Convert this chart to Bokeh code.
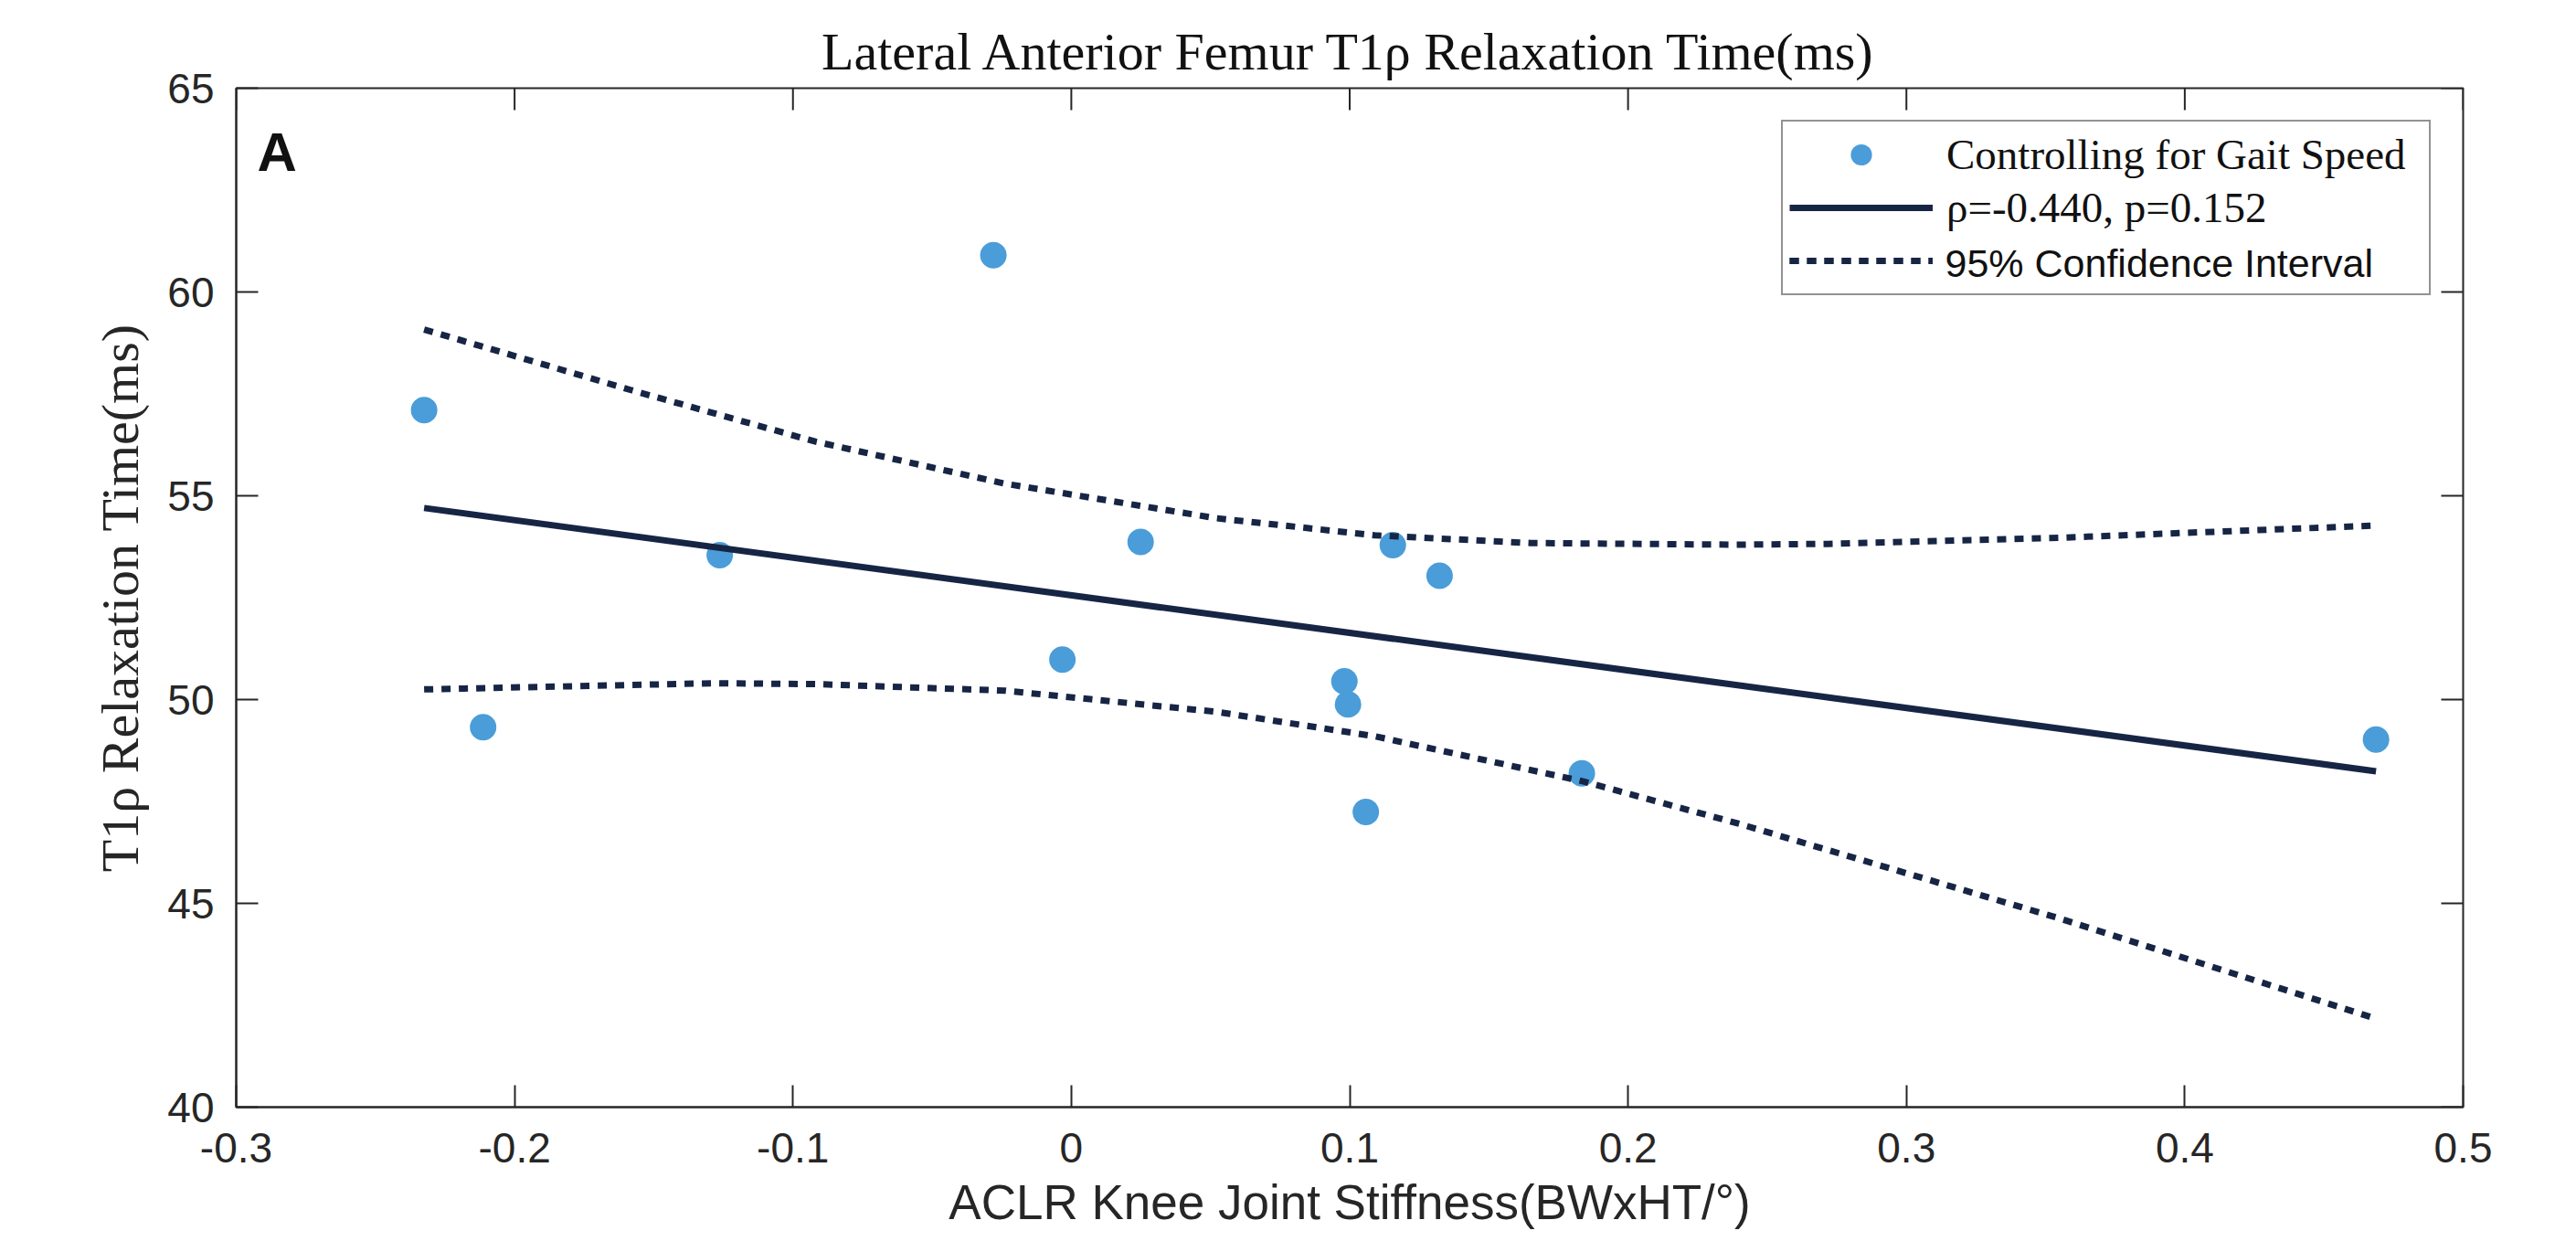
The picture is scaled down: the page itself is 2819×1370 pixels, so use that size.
import math
from bokeh.plotting import figure
from bokeh.models import (Range1d, FixedTicker, Legend, LegendItem,
                          Label, ColumnDataSource)
from bokeh.embed import file_html
from bokeh.resources import INLINE

# ---------------- data ----------------
stiffness = [-0.2325, -0.2113, -0.1263, -0.0280, -0.0032, 0.0249, 0.0981,
             0.0994, 0.1058, 0.1155, 0.1323, 0.1834, 0.4687]
t1rho = [57.10, 49.32, 53.54, 60.90, 50.98, 53.87, 50.45,
         49.88, 47.24, 53.79, 53.04, 48.19, 49.02]

fit_x = [-0.2325, 0.4687]
fit_y = [54.70, 48.24]

ci_upper_x = [-0.2325, -0.158, -0.092, -0.024, 0.052, 0.109, 0.165, 0.239, 0.272, 0.355, 0.4687]
ci_upper_y = [59.08, 57.59, 56.33, 55.30, 54.45, 54.03, 53.84, 53.80, 53.82, 53.97, 54.27]

ci_lower_x = [-0.2325, -0.129, -0.092, -0.024, 0.052, 0.109, 0.184, 0.240, 0.355, 0.4687]
ci_lower_y = [50.25, 50.40, 50.38, 50.22, 49.70, 49.10, 47.99, 46.95, 44.63, 42.17]

x_ticks = [-0.3, -0.2, -0.1, 0.0, 0.1, 0.2, 0.3, 0.4, 0.5]
x_tick_labels = ["-0.3", "-0.2", "-0.1", "0", "0.1", "0.2", "0.3", "0.4", "0.5"]
y_ticks = [40, 45, 50, 55, 60, 65]
y_tick_labels = ["40", "45", "50", "55", "60", "65"]

title_text = "Lateral Anterior Femur T1\u03c1 Relaxation Time(ms)"
x_label = "ACLR Knee Joint Stiffness(BWxHT/\u00b0)"
y_label = "T1\u03c1 Relaxation Time(ms)"
legend_labels = ["Controlling for Gait Speed", "\u03c1=-0.440, p=0.152", "95% Confidence Interval"]
panel_letter = "A"

X_MIN, X_MAX = x_ticks[0], x_ticks[-1]
Y_MIN, Y_MAX = y_ticks[0], y_ticks[-1]

# ---------------- style ----------------
SERIF = "Liberation Serif"
SANS = "Liberation Sans"
AXIS_COLOR = "#262626"
POINT_COLOR = "#4A9DD8"
LINE_COLOR = "#172545"
TICK_LEN = 24

W, H = 2816, 1366
LEFT, TOP = 258, 96
RIGHT = W - 2695
BOTTOM = H - 1211
FRAME_W = W - LEFT - RIGHT
FRAME_H = H - TOP - BOTTOM

p = figure(width=W, height=H, output_backend="svg", toolbar_location=None,
           x_range=Range1d(X_MIN, X_MAX), y_range=Range1d(Y_MIN, Y_MAX),
           min_border_left=LEFT, min_border_right=RIGHT,
           min_border_top=TOP, min_border_bottom=BOTTOM,
           x_axis_label=x_label, y_axis_label=y_label)
p.background_fill_color = "white"
p.border_fill_color = "white"
p.outline_line_color = AXIS_COLOR
p.outline_line_width = 2
p.xgrid.visible = False
p.ygrid.visible = False

p.title.text = title_text
p.title.text_font = SERIF
p.title.text_font_size = "58px"
p.title.text_font_style = "normal"
p.title.text_color = "#111111"
p.title.align = "center"
p.title.standoff = 15


def style_axis(ax, ticks, labels):
    ax.ticker = FixedTicker(ticks=ticks)
    ax.major_label_overrides = {t: l for t, l in zip(ticks, labels)}
    ax.axis_line_color = AXIS_COLOR
    ax.axis_line_width = 2
    ax.major_tick_line_color = AXIS_COLOR
    ax.major_tick_line_width = 2
    ax.major_tick_in = TICK_LEN
    ax.major_tick_out = 0
    ax.minor_tick_line_color = None
    ax.major_label_text_font = SANS
    ax.major_label_text_font_size = "46px"
    ax.major_label_text_color = "#262626"


xa = p.xaxis[0]
style_axis(xa, x_ticks, x_tick_labels)
xa.major_label_standoff = 28
xa.axis_label_text_font = SANS
xa.axis_label_text_font_size = "53px"
xa.axis_label_text_font_style = "normal"
xa.axis_label_text_color = "#262626"
xa.axis_label_standoff = 11

ya = p.yaxis[0]
style_axis(ya, y_ticks, y_tick_labels)
ya.major_label_standoff = 24
ya.axis_label_text_font = SERIF
ya.axis_label_text_font_size = "58px"
ya.axis_label_text_font_style = "normal"
ya.axis_label_text_color = "#262626"
ya.axis_label_standoff = 16

# mirror ticks on the top and right edges of the box
p.ray(x=x_ticks, y=[Y_MAX] * len(x_ticks), length=TICK_LEN, length_units="screen",
      angle=-math.pi / 2, line_color=AXIS_COLOR, line_width=2)
p.ray(x=[X_MAX] * len(y_ticks), y=y_ticks, length=TICK_LEN, length_units="screen",
      angle=math.pi, line_color=AXIS_COLOR, line_width=2)

# ---------------- glyphs ----------------
pts = ColumnDataSource(dict(x=stiffness, y=t1rho))
r_pts = p.scatter("x", "y", source=pts, size=29, marker="circle",
                  fill_color=POINT_COLOR, line_color=None)

r_fit = p.line(fit_x, fit_y, line_color=LINE_COLOR, line_width=7)

r_up = p.line(ci_upper_x, ci_upper_y, line_color=LINE_COLOR, line_width=7,
              line_dash="10 9", line_cap="butt")
r_lo = p.line(ci_lower_x, ci_lower_y, line_color=LINE_COLOR, line_width=7,
              line_dash="10 9", line_cap="butt")

# ---------------- legend ----------------
LEG_X, LEG_Y = 1691, 888     # bottom-left corner, screen px from the frame's bottom-left
PAD, GW, STANDOFF, ROWH, LABW = 7, 157, 15, 58, 521

# sans-serif label of the third legend row (drawn first; legend box is transparent)
row3_center = LEG_Y + PAD + ROWH / 2
p.add_layout(Label(x=LEG_X + PAD + GW + STANDOFF, y=row3_center,
                   x_units="screen", y_units="screen", text=legend_labels[2],
                   text_font=SANS, text_font_size="43px",
                   text_color="#111111", text_baseline="middle", text_align="left"))

legend = Legend(items=[LegendItem(label=legend_labels[0], renderers=[r_pts]),
                       LegendItem(label=legend_labels[1], renderers=[r_fit]),
                       LegendItem(label=" ", renderers=[r_up, r_lo])],
                location=(LEG_X, LEG_Y), margin=0, padding=PAD, spacing=0,
                glyph_width=GW, glyph_height=ROWH, label_height=ROWH,
                label_width=LABW, label_standoff=STANDOFF,
                label_text_font=SERIF, label_text_font_size="47px",
                label_text_color="#111111",
                border_line_color=AXIS_COLOR, border_line_width=2,
                background_fill_color="white", background_fill_alpha=0.0)
p.add_layout(legend, "center")

p.add_layout(Label(x=23, y=1211 - 166, x_units="screen", y_units="screen",
                   text=panel_letter, text_font=SANS, text_font_size="60px",
                   text_font_style="bold", text_color="#111111",
                   text_baseline="alphabetic", text_align="left"))

open("out.html", "w").write(file_html(p, INLINE))
